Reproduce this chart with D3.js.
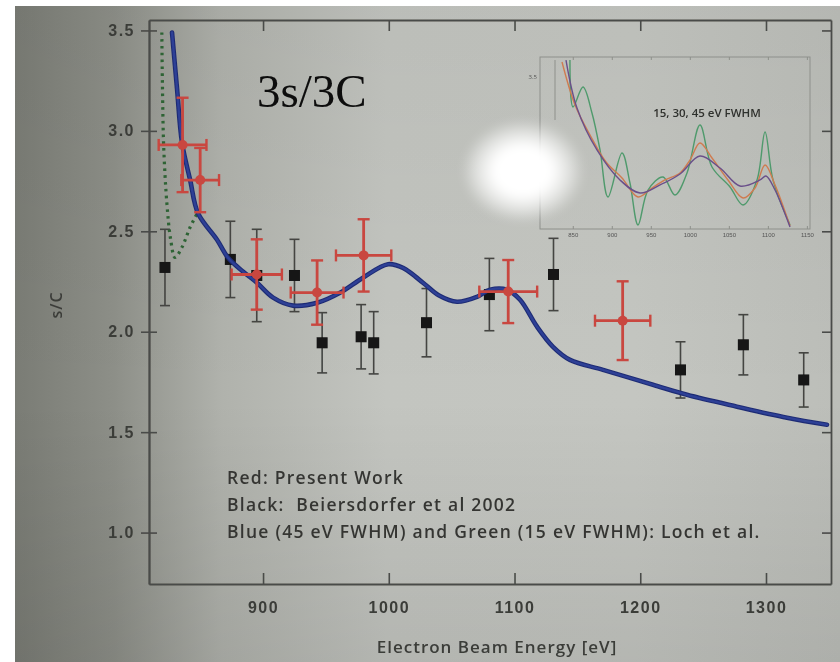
<!DOCTYPE html>
<html><head><meta charset="utf-8">
<script src="https://cdn.jsdelivr.net/npm/d3@7"></script>
<style>
html,body{margin:0;padding:0;background:#fff;}
svg{display:block;}
</style></head>
<body>
<svg id="chart" width="840" height="662" font-family="'Open Sans','Noto Sans',sans-serif"></svg>
<script>
// ---- Data ----
const xTicks = [900, 1000, 1100, 1200, 1300];
const yTicks = [1.0, 1.5, 2.0, 2.5, 3.0, 3.5];

// Black: Beiersdorfer et al 2002
const blackE   = [822, 874, 895, 925, 947, 978, 988, 1030, 1080, 1131, 1232, 1282, 1330];
const blackV   = [2.32, 2.36, 2.28, 2.28, 1.945, 1.975, 1.945, 2.045, 2.185, 2.285, 1.81, 1.935, 1.76];
const blackErr = [0.19, 0.19, 0.23, 0.18, 0.15, 0.16, 0.155, 0.17, 0.18, 0.18, 0.14, 0.15, 0.135];

// Red: Present Work
const redE    = [836, 850, 895, 943, 980, 1095, 1186];
const redV    = [2.93, 2.755, 2.285, 2.195, 2.38, 2.2, 2.055];
const redYErr = [0.235, 0.16, 0.175, 0.16, 0.18, 0.157, 0.196];
const redXErr = [19, 15, 20, 21, 22, 23, 22];

// Blue: theory 45 eV FWHM
const blueE = [827.6, 831.6, 835.6, 842, 848.3, 863.4, 872.2, 884, 895.2, 908, 923.9, 943, 961.2, 979.5, 999.4, 1011.3, 1027.2, 1040, 1054.3, 1070.2, 1080.5, 1094, 1104.4, 1117.9, 1130.6, 1144.1, 1170.4, 1210.1, 1237.2, 1276.9, 1316.7, 1348.5];
const blueV = [3.49, 3.21, 2.94, 2.756, 2.59, 2.458, 2.368, 2.30, 2.244, 2.17, 2.13, 2.144, 2.194, 2.269, 2.336, 2.318, 2.244, 2.18, 2.149, 2.174, 2.209, 2.209, 2.159, 2.025, 1.925, 1.86, 1.81, 1.736, 1.686, 1.627, 1.572, 1.537];

// Green: theory 15 eV FWHM (dotted)
const greenE = [819.5, 820, 821, 823.5, 826.5, 830, 835.5, 842, 848.5];
const greenV = [3.49, 3.22, 2.92, 2.64, 2.46, 2.37, 2.42, 2.52, 2.60];

// Inset: 15, 30, 45 eV FWHM
const insetTicks = [850, 900, 950, 1000, 1050, 1100, 1150];
const in15E = [846.4, 850.3, 863.1, 874.6, 884.9, 895.1, 913.1, 923.3, 933.6, 946.4, 965.6, 981, 996.4, 1013, 1028.4, 1051.5, 1068.2, 1086.1, 1096.4, 1106.6, 1128.4];
const in15V = [3.565, 3.019, 3.251, 2.949, 2.519, 1.972, 2.484, 2.135, 1.647, 2.053, 2.205, 1.995, 2.251, 2.809, 2.321, 2.088, 1.879, 2.17, 2.728, 2.17, 1.647];
const in30E = [836.2, 852.9, 872.1, 892.6, 913.1, 933.6, 951.5, 968.2, 987.4, 1000.2, 1013, 1028.4, 1048.9, 1068.2, 1083.5, 1096.4, 1109.2, 1128.4];
const in30V = [3.542, 3.042, 2.693, 2.379, 2.193, 1.972, 2.077, 2.170, 2.251, 2.402, 2.6, 2.426, 2.170, 1.960, 2.077, 2.344, 2.112, 1.635];
const in45E = [841.3, 855.4, 881, 910.5, 936.2, 961.8, 987.4, 1013, 1038.7, 1064.3, 1089.9, 1097.6, 1109.2, 1128.4];
const in45V = [3.565, 3.007, 2.519, 2.170, 2.019, 2.112, 2.240, 2.449, 2.309, 2.1, 2.170, 2.216, 2.053, 1.623];

const legendLines = ["Red: Present Work", "Black:  Beiersdorfer et al 2002", "Blue (45 eV FWHM) and Green (15 eV FWHM): Loch et al."];

// ---- Drawing ----
const svg = d3.select("#chart");
const defs = svg.append("defs");

const bg = defs.append("linearGradient").attr("id","bg").attr("x1","0").attr("x2","1").attr("y1","0").attr("y2","0");
[["0%","#7a7c75"],["12%","#8d8f88"],["25%","#b0b2ac"],["45%","#c3c5c0"],["75%","#c4c6c1"],["100%","#bcbeb9"]]
  .forEach(([o,c]) => bg.append("stop").attr("offset",o).attr("stop-color",c));
const vg = defs.append("linearGradient").attr("id","vg").attr("x1","0").attr("x2","0").attr("y1","0").attr("y2","1");
[["0%","#000",0.04],["60%","#000",0],["100%","#000",0.08]].forEach(([o,c,a]) => vg.append("stop").attr("offset",o).attr("stop-color",c).attr("stop-opacity",a));
const glare = defs.append("radialGradient").attr("id","glare");
[["0%",1],["45%",1],["70%",0.6],["100%",0]].forEach(([o,a]) => glare.append("stop").attr("offset",o).attr("stop-color","#ffffff").attr("stop-opacity",a));
const blur = defs.append("filter").attr("id","soft").attr("x","-5%").attr("y","-5%").attr("width","110%").attr("height","110%");
blur.append("feGaussianBlur").attr("stdDeviation",0.55);
const blurG = defs.append("filter").attr("id","glareBlur").attr("x","-50%").attr("y","-50%").attr("width","200%").attr("height","200%");
blurG.append("feGaussianBlur").attr("stdDeviation",5);

svg.append("rect").attr("width",840).attr("height",662).attr("fill","#ffffff");
svg.append("rect").attr("x",15).attr("y",6).attr("width",825).attr("height",656).attr("fill","url(#bg)");
svg.append("rect").attr("x",15).attr("y",6).attr("width",825).attr("height",656).attr("fill","url(#vg)");

const g = svg.append("g").attr("filter","url(#soft)");

const x = d3.scaleLinear().domain([809.3, 1351.7]).range([149, 831]);
const y = d3.scaleLinear().domain([0.744, 3.552]).range([584, 20]);

const axisColor = "#4a4b48";
const labelColor = "#3b3c39";
function styleAxis(sel){
  sel.selectAll("path.domain").attr("stroke",axisColor).attr("stroke-width",1.8);
  sel.selectAll(".tick line").attr("stroke",axisColor).attr("stroke-width",1.6);
  sel.selectAll(".tick text").attr("fill",labelColor).attr("font-size",16)
    .attr("font-weight",600).attr("letter-spacing",1.5);
}
// left axis: outward ticks with labels + inward ticks
g.append("g").attr("transform","translate(149,0)")
  .call(d3.axisLeft(y).tickValues(yTicks).tickFormat(d3.format(".1f")).tickSizeInner(8).tickSizeOuter(0).tickPadding(6))
  .call(styleAxis);
g.append("g").attr("transform","translate(149,0)")
  .call(d3.axisLeft(y).tickValues(yTicks).tickFormat("").tickSizeInner(-8).tickSizeOuter(0))
  .call(styleAxis);
// bottom axis: inward ticks
g.append("g").attr("transform","translate(0,584)")
  .call(d3.axisBottom(x).tickValues(xTicks).tickFormat(d3.format("d")).tickSizeInner(-11).tickSizeOuter(0).tickPadding(18))
  .call(styleAxis);
// top & right mirrored axes
g.append("g").attr("transform","translate(0,20)")
  .call(d3.axisTop(x).tickValues(xTicks).tickFormat("").tickSizeInner(-11).tickSizeOuter(0))
  .call(styleAxis);
g.append("g").attr("transform","translate(831,0)")
  .call(d3.axisRight(y).tickValues(yTicks).tickFormat("").tickSizeInner(-9).tickSizeOuter(0))
  .call(styleAxis);

// axis titles
g.append("text").attr("x",497).attr("y",653).attr("text-anchor","middle")
  .attr("font-size",17).attr("font-weight",600).attr("letter-spacing",1).attr("fill",labelColor).text("Electron Beam Energy [eV]");
g.append("text").attr("transform","translate(62,305) rotate(-90)").attr("text-anchor","middle")
  .attr("font-size",16).attr("font-weight",600).attr("letter-spacing",1).attr("fill",labelColor).text("s/C");

// black error bars + squares
const black = blackE.map((e,i)=>({e, v:blackV[i], err:blackErr[i]}));
const bk = g.append("g");
black.forEach(d=>{
  const cx = x(d.e), y1 = y(d.v+d.err), y2 = y(d.v-d.err);
  bk.append("line").attr("x1",cx).attr("x2",cx).attr("y1",y1).attr("y2",y2).attr("stroke","#444542").attr("stroke-width",1.6);
  [y1,y2].forEach(yy=>bk.append("line").attr("x1",cx-5).attr("x2",cx+5).attr("y1",yy).attr("y2",yy).attr("stroke","#444542").attr("stroke-width",1.6));
});
bk.selectAll("rect").data(black).join("rect")
  .attr("x",d=>x(d.e)-5.5).attr("y",d=>y(d.v)-5.5).attr("width",11).attr("height",11).attr("fill","#131313");

// theory curves
const line = d3.line().x(d=>x(d[0])).y(d=>y(d[1])).curve(d3.curveCatmullRom.alpha(0.5));
g.append("path").datum(greenE.map((e,i)=>[e,greenV[i]])).attr("d",line)
  .attr("fill","none").attr("stroke","#2f6435").attr("stroke-width",3.2)
  .attr("stroke-dasharray","2.6,4.2");
g.append("path").datum(blueE.map((e,i)=>[e,blueV[i]])).attr("d",line)
  .attr("fill","none").attr("stroke","#1f2c74").attr("stroke-width",4.6).attr("stroke-linecap","round");
g.append("path").datum(blueE.map((e,i)=>[e,blueV[i]])).attr("d",line)
  .attr("fill","none").attr("stroke","#2d3f96").attr("stroke-width",2.4).attr("stroke-linecap","round");

// red crosses
const red = redE.map((e,i)=>({e, v:redV[i], ye:redYErr[i], xe:redXErr[i]}));
const rc = "#c9463f";
const rg = g.append("g");
red.forEach(d=>{
  const cx = x(d.e), cy = y(d.v);
  const y1 = y(d.v+d.ye), y2 = y(d.v-d.ye), x1 = x(d.e-d.xe), x2 = x(d.e+d.xe);
  rg.append("line").attr("x1",cx).attr("x2",cx).attr("y1",y1).attr("y2",y2).attr("stroke",rc).attr("stroke-width",2.8);
  rg.append("line").attr("x1",x1).attr("x2",x2).attr("y1",cy).attr("y2",cy).attr("stroke",rc).attr("stroke-width",2.8);
  [y1,y2].forEach(yy=>rg.append("line").attr("x1",cx-6).attr("x2",cx+6).attr("y1",yy).attr("y2",yy).attr("stroke",rc).attr("stroke-width",2.4));
  [x1,x2].forEach(xx=>rg.append("line").attr("x1",xx).attr("x2",xx).attr("y1",cy-6).attr("y2",cy+6).attr("stroke",rc).attr("stroke-width",2.4));
  rg.append("circle").attr("cx",cx).attr("cy",cy).attr("r",5).attr("fill",rc);
});

// legend text
g.selectAll("text.leg").data(legendLines).join("text").attr("class","leg")
  .attr("x",227).attr("y",(d,i)=>484+i*27).attr("font-size",17.5).attr("font-weight",600)
  .attr("letter-spacing",1.25).attr("fill","#353633")
  .style("white-space","pre").text(d=>d);

// title
g.append("text").attr("x",257).attr("y",107)
  .style("font-family","'Liberation Serif','DejaVu Serif',serif")
  .attr("font-size",47).attr("fill","#0a0a0a").text("3s/3C");

// ---- inset ----
const ix = d3.scaleLinear().domain([808, 1154]).range([540, 810]);
const iy = d3.scaleLinear().domain([1.6, 3.6]).range([229, 57]);
const ins = g.append("g");
ins.append("rect").attr("x",540).attr("y",57).attr("width",270).attr("height",172)
  .attr("fill","none").attr("stroke","#8e908b").attr("stroke-width",1);
ins.append("line").attr("x1",555).attr("x2",555).attr("y1",60).attr("y2",120).attr("stroke","#8e908b").attr("stroke-width",1);
ins.append("g").attr("transform","translate(0,229)")
  .call(d3.axisBottom(ix).tickValues(insetTicks).tickFormat(d3.format("d")).tickSizeInner(-3).tickSizeOuter(0).tickPadding(4))
  .call(s=>{s.select(".domain").remove(); s.selectAll(".tick line").attr("stroke","#8e908b");
    s.selectAll(".tick text").attr("font-size",6).attr("fill","#555");});
ins.append("g").attr("transform","translate(0,57)")
  .call(d3.axisTop(ix).tickValues(insetTicks).tickFormat("").tickSizeInner(-3).tickSizeOuter(0))
  .call(s=>{s.select(".domain").remove(); s.selectAll(".tick line").attr("stroke","#8e908b");});
ins.append("text").attr("x",537).attr("y",79).attr("text-anchor","end").attr("font-size",6).attr("fill","#555").text("3.5");
const iline = d3.line().x(d=>ix(d[0])).y(d=>iy(d[1])).curve(d3.curveCatmullRom.alpha(0.5));
[[in15E,in15V,"#4f9a6c"],[in30E,in30V,"#cf7b50"],[in45E,in45V,"#6a4f8a"]].forEach(([E,V,c])=>{
  ins.append("path").datum(E.map((e,i)=>[e,V[i]])).attr("d",iline)
    .attr("fill","none").attr("stroke",c).attr("stroke-width",1.4);
});
ins.append("text").attr("x",707).attr("y",117).attr("text-anchor","middle").attr("font-size",11.5)
  .attr("font-weight",600).attr("fill","#2f302d").text("15, 30, 45 eV FWHM");

// photo glare
svg.append("ellipse").attr("cx",523).attr("cy",171).attr("rx",62).attr("ry",52)
  .attr("fill","url(#glare)").attr("filter","url(#glareBlur)");
</script>
</body></html>
